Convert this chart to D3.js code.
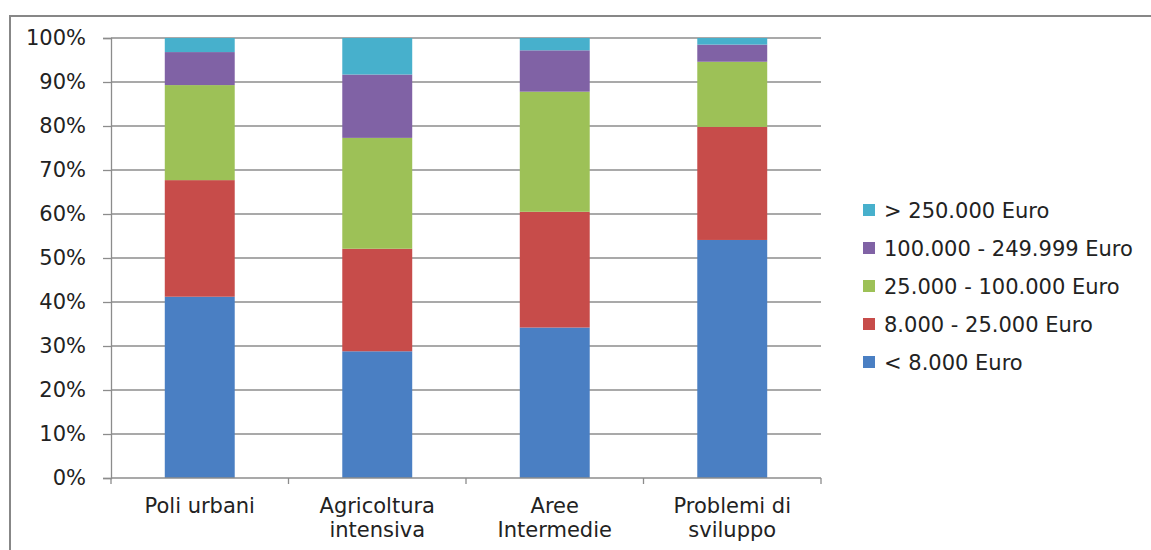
<!DOCTYPE html>
<html>
<head>
<meta charset="utf-8">
<script src="https://cdn.jsdelivr.net/npm/d3@7"></script>
<style>
  html, body { margin: 0; padding: 0; background: #fff; }
  svg { display: block; }
  text { font-family: "DejaVu Sans", sans-serif; fill: #222; }
</style>
</head>
<body>
<svg id="chart" width="1151" height="550"></svg>
<script>
// Farm economic size classes by territorial area (share of farms, %)
const categories = [
  ["Poli urbani"],
  ["Agricoltura", "intensiva"],
  ["Aree", "Intermedie"],
  ["Problemi di", "sviluppo"]
];
const seriesNames = [
  "< 8.000 Euro",
  "8.000 - 25.000 Euro",
  "25.000 - 100.000 Euro",
  "100.000 - 249.999 Euro",
  "> 250.000 Euro"
];
const under8k       = [41.2, 28.8, 34.2, 54.1];
const from8to25k    = [26.5, 23.3, 26.3, 25.7];
const from25to100k  = [21.6, 25.2, 27.3, 14.8];
const from100to250k = [7.5, 14.4, 9.4, 3.9];
const over250k      = [3.2, 8.3, 2.8, 1.5];
const yTicks = [0, 10, 20, 30, 40, 50, 60, 70, 80, 90, 100];
const colors = ["#4a7fc3", "#c74c4a", "#9dc157", "#8062a5", "#47b0cc"];

const seriesValues = [under8k, from8to25k, from25to100k, from100to250k, over250k];
const keys = seriesNames;
const rows = categories.map((c, i) => {
  const r = { cat: c.join(" ") };
  keys.forEach((k, j) => r[k] = seriesValues[j][i]);
  return r;
});
const stacked = d3.stack().keys(keys)(rows);

const svg = d3.select("#chart");
const plot = { left: 111, right: 821, top: 38, bottom: 478 };
const fontSize = "21px";

// outer chart frame (top and left edges visible)
svg.append("path")
  .attr("d", "M10,552 L10,16 L1153,16")
  .attr("fill", "none").attr("stroke", "#878787").attr("stroke-width", 2);

const x = d3.scaleBand().domain(rows.map(r => r.cat))
  .range([plot.left, plot.right]).paddingInner(0.606).paddingOuter(0.303);
const y = d3.scaleLinear().domain([0, 100]).range([plot.bottom, plot.top]);

// gridlines
svg.append("g").selectAll("line").data(yTicks.filter(t => t > 0)).join("line")
  .attr("x1", plot.left).attr("x2", plot.right)
  .attr("y1", d => y(d)).attr("y2", d => y(d))
  .attr("stroke", "#8c8c8c").attr("stroke-width", 1.3);

// y axis
const yAxis = svg.append("g").attr("transform", `translate(${plot.left},0)`)
  .call(d3.axisLeft(y).tickValues(yTicks).tickFormat(d => d + "%").tickSize(8).tickPadding(17));
yAxis.select(".domain").attr("stroke", "#8c8c8c").attr("stroke-width", 1.3);
yAxis.selectAll(".tick line").attr("stroke", "#8c8c8c").attr("stroke-width", 1.3);
yAxis.selectAll(".tick text").attr("font-size", fontSize)
  .attr("font-family", "DejaVu Sans, sans-serif").attr("fill", "#222");

// bars
svg.append("g").selectAll("g").data(stacked).join("g")
  .attr("fill", (d, i) => colors[i])
  .selectAll("rect").data(d => d).join("rect")
  .attr("x", d => x(d.data.cat))
  .attr("width", x.bandwidth())
  .attr("y", d => y(d[1]))
  .attr("height", d => y(d[0]) - y(d[1]));

// x axis
const xAxisG = svg.append("g").attr("transform", `translate(0,${plot.bottom})`);
xAxisG.append("line").attr("x1", plot.left).attr("x2", plot.right)
  .attr("stroke", "#8c8c8c").attr("stroke-width", 1.3);
const bounds = d3.range(rows.length + 1)
  .map(i => plot.left + i * (plot.right - plot.left) / rows.length);
xAxisG.selectAll("line.tk").data(bounds).join("line").attr("class", "tk")
  .attr("x1", d => d).attr("x2", d => d).attr("y1", 0).attr("y2", 6)
  .attr("stroke", "#8c8c8c").attr("stroke-width", 1.3);
const catLabels = xAxisG.selectAll("text.cat").data(categories).join("text").attr("class", "cat")
  .attr("text-anchor", "middle").attr("font-size", fontSize)
  .attr("x", (d, i) => x(rows[i].cat) + x.bandwidth() / 2);
catLabels.selectAll("tspan").data(d => d).join("tspan")
  .attr("x", function() { return d3.select(this.parentNode).attr("x"); })
  .attr("y", (d, i) => 35 + i * 24)
  .text(d => d);

// legend (top entry is the last series)
const legendItems = seriesNames.map((n, i) => ({ name: n, color: colors[i] })).reverse();
const lg = svg.append("g").selectAll("g").data(legendItems).join("g")
  .attr("transform", (d, i) => `translate(863,${210 + i * 38})`);
lg.append("rect").attr("x", 0).attr("y", -6).attr("width", 12).attr("height", 12)
  .attr("fill", d => d.color);
lg.append("text").attr("x", 21).attr("y", 7.5).attr("font-size", fontSize).text(d => d.name);
</script>
</body>
</html>
